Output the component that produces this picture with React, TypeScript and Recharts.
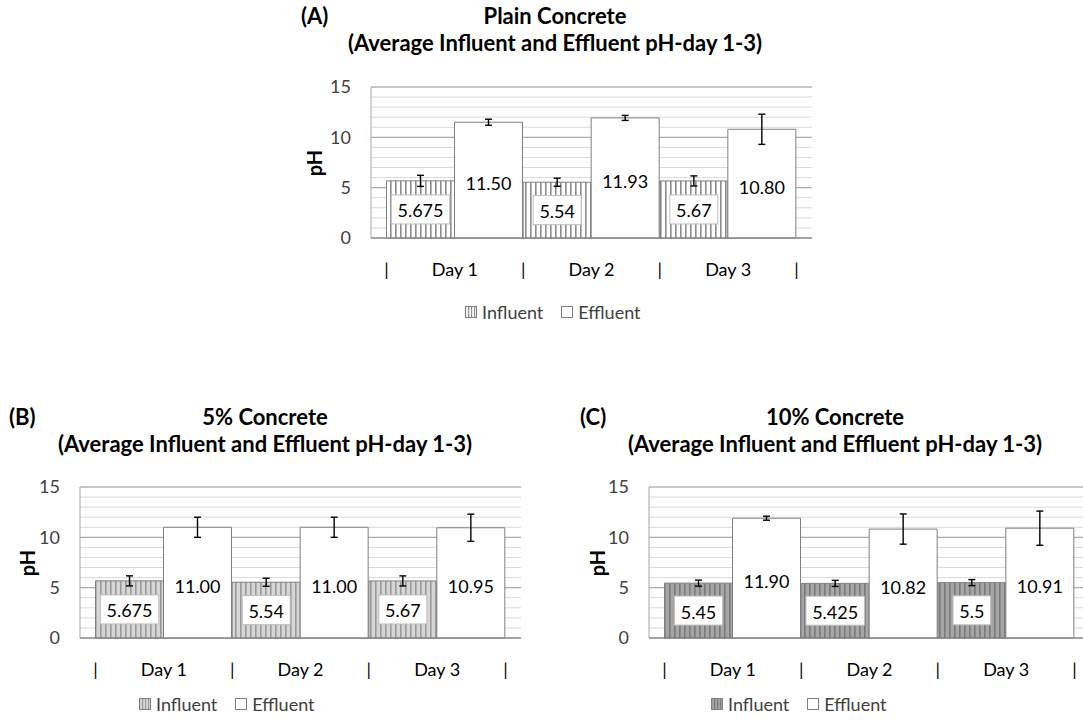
import React from 'react';
import {
  BarChart,
  Bar,
  XAxis,
  YAxis,
  CartesianGrid,
  ErrorBar,
  LabelList,
} from 'recharts';

// shared axis values
const days = ['Day 1', 'Day 2', 'Day 3'];
const yTicks = [0, 5, 10, 15];
const minorTicks = [0, 1, 2, 3, 4, 5, 6, 7, 8, 9, 10, 11, 12, 13, 14, 15];

// (A) Plain concrete
const plainInfluent = [5.675, 5.54, 5.67];
const plainInfluentErr = [0.55, 0.4, 0.5];
const plainInfluentLabels = ['5.675', '5.54', '5.67'];
const plainEffluent = [11.5, 11.93, 10.8];
const plainEffluentErr = [0.3, 0.25, 1.5];
const plainEffluentLabels = ['11.50', '11.93', '10.80'];

// (B) 5% concrete
const fiveInfluent = [5.675, 5.54, 5.67];
const fiveInfluentErr = [0.5, 0.4, 0.5];
const fiveInfluentLabels = ['5.675', '5.54', '5.67'];
const fiveEffluent = [11.0, 11.0, 10.95];
const fiveEffluentErr = [1.0, 1.0, 1.35];
const fiveEffluentLabels = ['11.00', '11.00', '10.95'];

// (C) 10% concrete
const tenInfluent = [5.45, 5.425, 5.5];
const tenInfluentErr = [0.3, 0.3, 0.3];
const tenInfluentLabels = ['5.45', '5.425', '5.5'];
const tenEffluent = [11.9, 10.82, 10.91];
const tenEffluentErr = [0.2, 1.5, 1.7];
const tenEffluentLabels = ['11.90', '10.82', '10.91'];

const FONT = 'Lato, "Open Sans", sans-serif';

const buildRows = (
  inf: number[], infErr: number[], infLabel: string[],
  eff: number[], effErr: number[], effLabel: string[],
) =>
  days.map((day, i) => ({
    day,
    inf: inf[i],
    infErr: infErr[i],
    infLabel: infLabel[i],
    eff: eff[i],
    effErr: effErr[i],
    effLabel: effLabel[i],
  }));

const patterns = {
  a: { bg: '#ffffff', line: '#8c8c8c' },
  b: { bg: '#d6d6d6', line: '#9a9a9a' },
  c: { bg: '#a6a6a6', line: '#7a7a7a' },
};

const textWidth = (s: string) => {
  let w = 0;
  for (const ch of s) w += ch === '.' ? 0.26 : 0.58;
  return w * 18;
};

const BoxLabel = (props: any) => {
  const { x, y, width, height, value } = props;
  const cx = x + width / 2;
  const cy = y + height / 2;
  const w = textWidth(String(value)) + 12;
  return (
    <g>
      <rect x={cx - w / 2} y={cy - 14.5} width={w} height={29} fill="#fff" stroke="#bfbfbf" />
      <text x={cx} y={cy + 1} textAnchor="middle" dominantBaseline="central"
        fontFamily={FONT} fontSize={18} fill="#000">{value}</text>
    </g>
  );
};

const PlainLabel = (props: any) => {
  const { x, y, width, height, value } = props;
  return (
    <text x={x + width / 2} y={y + height / 2 + 3} textAnchor="middle" dominantBaseline="central"
      fontFamily={FONT} fontSize={18} fill="#000">{value}</text>
  );
};

const DayTick = (props: any) => {
  const { x, y, payload, index, half } = props;
  const ty = y + 31;
  const common = { fontFamily: FONT, fontSize: 18, fill: '#000', textAnchor: 'middle' as const, dominantBaseline: 'central' as const };
  return (
    <g>
      <text x={x - half} y={ty} {...common}>|</text>
      <text x={x} y={ty} {...common}>{payload.value}</text>
      {index === days.length - 1 && <text x={x + half} y={ty} {...common}>|</text>}
    </g>
  );
};

type PanelProps = {
  id: 'a' | 'b' | 'c';
  left: number;
  top: number;
  width: number;
  height: number;
  marginLeft: number;
  marginRight: number;
  rows: ReturnType<typeof buildRows>;
};

const Panel = ({ id, left, top, width, height, marginLeft, marginRight, rows }: PanelProps) => {
  const yAxisWidth = 50;
  const plotWidth = width - marginLeft - yAxisWidth - marginRight;
  const pad = 15.5;
  const half = (plotWidth - pad * 2) / days.length / 2;
  const p = patterns[id];
  return (
    <div style={{ position: 'absolute', left, top }}>
      <BarChart
        width={width}
        height={height}
        data={rows}
        barCategoryGap={0}
        barGap={0}
        margin={{ top: 17, right: marginRight, left: marginLeft, bottom: 2 }}
      >
        <defs>
          <pattern id={`stripe-${id}`} width={5} height={10} patternUnits="userSpaceOnUse">
            <rect width={5} height={10} fill={p.bg} />
            <rect x={0} width={1.6} height={10} fill={p.line} />
          </pattern>
        </defs>
        <CartesianGrid
          vertical={false}
          stroke="#d9d9d9"
          horizontalCoordinatesGenerator={({ yAxis, offset }: any) =>
            minorTicks.map((v) =>
              yAxis && typeof yAxis.scale === 'function'
                ? yAxis.scale(v)
                : offset.top + offset.height * (1 - v / 15),
            )
          }
        />
        <CartesianGrid vertical={false} stroke="#a0a0a0" />
        <XAxis
          dataKey="day"
          height={40}
          padding={{ left: pad, right: pad }}
          tickLine={false}
          tickSize={0}
          tickMargin={0}
          axisLine={{ stroke: '#808080' }}
          tick={(t: any) => <DayTick {...t} half={half} />}
          interval={0}
        />
        <YAxis
          width={yAxisWidth}
          domain={[0, 15]}
          ticks={yTicks}
          tickLine={false}
          tickSize={0}
          tickMargin={20}
          axisLine={{ stroke: '#a6a6a6' }}
          tick={{ fontFamily: FONT, fontSize: 18, fill: '#404040' }}
        />
        <Bar dataKey="inf" fill={`url(#stripe-${id})`} stroke="#7f7f7f" strokeWidth={1} isAnimationActive={false}>
          <LabelList dataKey="infLabel" content={BoxLabel} />
          <ErrorBar dataKey="infErr" width={3.5} stroke="#000" strokeWidth={1.4} />
        </Bar>
        <Bar dataKey="eff" fill="#ffffff" stroke="#7f7f7f" strokeWidth={1} isAnimationActive={false}>
          <LabelList dataKey="effLabel" content={PlainLabel} />
          <ErrorBar dataKey="effErr" width={3.5} stroke="#000" strokeWidth={1.4} />
        </Bar>
      </BarChart>
    </div>
  );
};

const Titles = ({ tag, tagLeft, center, top, title }: { tag: string; tagLeft: number; center: number; top: number; title: string }) => {
  const style: React.CSSProperties = {
    position: 'absolute',
    fontFamily: FONT,
    fontWeight: 700,
    fontSize: 22,
    color: '#000',
    whiteSpace: 'nowrap',
    lineHeight: '26px',
    height: 26,
  };
  return (
    <>
      <div style={{ ...style, left: tagLeft, top }}>{tag}</div>
      <div style={{ ...style, left: center - 300, width: 600, textAlign: 'center', top }}>{title}</div>
      <div style={{ ...style, left: center - 300, width: 600, textAlign: 'center', top: top + 27 }}>
        (Average Influent and Effluent pH-day 1-3)
      </div>
    </>
  );
};

const YLabel = ({ x, y }: { x: number; y: number }) => (
  <div
    style={{
      position: 'absolute',
      left: x - 20,
      top: y - 12,
      width: 40,
      height: 24,
      lineHeight: '24px',
      textAlign: 'center',
      transform: 'rotate(-90deg)',
      fontFamily: FONT,
      fontWeight: 700,
      fontSize: 20,
      color: '#000',
    }}
  >
    pH
  </div>
);

const Swatch = ({ id }: { id: 'a' | 'b' | 'c' | 'white' }) => {
  const p = id === 'white' ? null : patterns[id];
  return (
    <svg width={12} height={12} style={{ display: 'inline-block', verticalAlign: 'middle', marginRight: 5 }}>
      <defs>
        {p && (
          <pattern id={`leg-${id}`} width={3} height={12} patternUnits="userSpaceOnUse">
            <rect width={3} height={12} fill={p.bg} />
            <rect width={1.2} height={12} fill={p.line} />
          </pattern>
        )}
      </defs>
      <rect x={0.5} y={0.5} width={11} height={11} fill={p ? `url(#leg-${id})` : '#fff'} stroke="#7f7f7f" />
    </svg>
  );
};

const Legend2 = ({ id, left, top }: { id: 'a' | 'b' | 'c'; left: number; top: number }) => (
  <div
    style={{
      position: 'absolute',
      left,
      top,
      fontFamily: FONT,
      fontSize: 18,
      color: '#404040',
      whiteSpace: 'nowrap',
      lineHeight: '22px',
    }}
  >
    <Swatch id={id} />
    <span style={{ verticalAlign: 'middle' }}>Influent</span>
    <span style={{ display: 'inline-block', width: 18 }} />
    <Swatch id="white" />
    <span style={{ verticalAlign: 'middle' }}>Effluent</span>
  </div>
);

const plainRows = buildRows(plainInfluent, plainInfluentErr, plainInfluentLabels, plainEffluent, plainEffluentErr, plainEffluentLabels);
const fiveRows = buildRows(fiveInfluent, fiveInfluentErr, fiveInfluentLabels, fiveEffluent, fiveEffluentErr, fiveEffluentLabels);
const tenRows = buildRows(tenInfluent, tenInfluentErr, tenInfluentLabels, tenEffluent, tenEffluentErr, tenEffluentLabels);

export default function App() {
  return (
    <div
      style={{
        position: 'absolute',
        left: 0,
        top: 0,
        width: 1083,
        height: 723,
        overflow: 'hidden',
        background: '#fff',
      }}
    >
      <Titles tag="(A)" tagLeft={301} center={555} top={3} title="Plain Concrete" />
      <YLabel x={314} y={163} />
      <Panel id="a" left={290} top={70} width={540} height={210} marginLeft={31} marginRight={18} rows={plainRows} />
      <Legend2 id="a" left={465} top={299} />

      <Titles tag="(B)" tagLeft={9} center={265} top={404} title="5% Concrete" />
      <YLabel x={27} y={563} />
      <Panel id="b" left={10} top={470} width={530} height={210} marginLeft={20} marginRight={19} rows={fiveRows} />
      <Legend2 id="b" left={139} top={691} />

      <Titles tag="(C)" tagLeft={580} center={835} top={404} title="10% Concrete" />
      <YLabel x={597} y={563} />
      <Panel id="c" left={579} top={470} width={530} height={210} marginLeft={20} marginRight={19} rows={tenRows} />
      <Legend2 id="c" left={711} top={691} />
    </div>
  );
}
